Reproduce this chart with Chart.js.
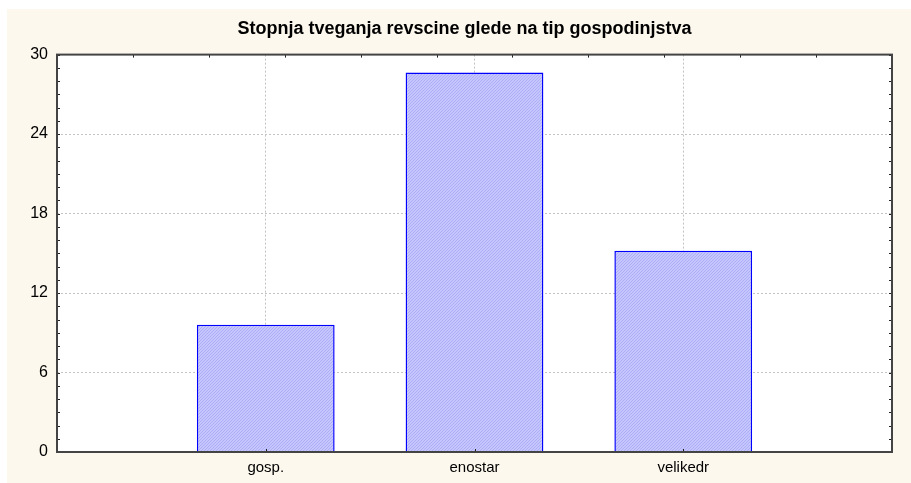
<!DOCTYPE html>
<html>
<head>
<meta charset="utf-8">
<script src="https://cdn.jsdelivr.net/npm/chart.js@4/dist/chart.umd.min.js"></script>
<style>
  html, body { margin: 0; padding: 0; background: #fff; }
  #wrap { position: absolute; left: 7px; top: 9px; width: 904px; height: 474px; background: #fdf8ed; }
</style>
</head>
<body>
<div id="wrap"><canvas id="chart"></canvas></div>
<script>
// podatki
const titleText = "Stopnja tveganja revscine glede na tip gospodinjstva";
const categories = ["", "gosp.", "enostar", "velikedr", ""];
const values = [null, 9.6, 28.65, 15.2, null];
const yTicks = [0, 6, 12, 18, 24, 30];

// srafura za stolpce
function hatch() {
  const c = document.createElement("canvas");
  c.width = 3; c.height = 3;
  const g = c.getContext("2d");
  g.fillStyle = "#c6c6ff";
  g.fillRect(0, 0, 3, 3);
  g.fillStyle = "#aeaef6";
  g.fillRect(2, 0, 1, 1);
  g.fillRect(1, 1, 1, 1);
  g.fillRect(0, 2, 1, 1);
  return g.createPattern(c, "repeat");
}

// belo ozadje grafa, naslov malo v desno
const plotBg = {
  id: "plotBg",
  afterLayout(chart) {
    if (chart.titleBlock) {
      chart.titleBlock.left += 15;
      chart.titleBlock.right += 15;
    }
  },
  beforeDraw(chart) {
    const { ctx, chartArea: a } = chart;
    ctx.save();
    ctx.fillStyle = "#fff";
    ctx.fillRect(a.left, a.top, a.right - a.left, a.bottom - a.top);
    ctx.restore();
  }
};

// okvir in notranje oznake
const frame = {
  id: "frame",
  afterDraw(chart) {
    const { ctx, chartArea: a, scales } = chart;
    ctx.save();
    ctx.strokeStyle = "#222";
    ctx.lineWidth = 1;
    ctx.beginPath();
    for (let v = 0; v <= 30; v++) {
      const y = Math.round(scales.y.getPixelForValue(v)) + 0.5;
      ctx.moveTo(a.left, y); ctx.lineTo(a.left + 3, y);
      ctx.moveTo(a.right, y); ctx.lineTo(a.right - 3, y);
    }
    for (let i = 1; i < 11; i++) {
      const x = Math.round(a.left + (a.right - a.left) * i / 11) + 0.5;
      ctx.moveTo(x, a.top); ctx.lineTo(x, a.top + 3);
    }
    for (let i = 1; i < categories.length - 1; i++) {
      const x = Math.round(scales.x.getPixelForValue(i)) + 0.5;
      ctx.moveTo(x, a.bottom); ctx.lineTo(x, a.bottom - 3);
    }
    ctx.stroke();
    ctx.strokeStyle = "#444";
    ctx.lineWidth = 2;
    ctx.strokeRect(a.left, a.top, a.right - a.left, a.bottom - a.top);
    ctx.restore();
  }
};

new Chart(document.getElementById("chart"), {
  type: "bar",
  data: {
    labels: categories,
    datasets: [{
      data: values,
      backgroundColor: hatch(),
      borderColor: "#0000ff",
      borderWidth: 1.5,
      barPercentage: 0.66,
      categoryPercentage: 1
    }]
  },
  options: {
    responsive: true,
    maintainAspectRatio: false,
    animation: false,
    layout: { padding: { left: 0, right: 19, top: 0, bottom: 0 } },
    plugins: {
      legend: { display: false },
      tooltip: { enabled: false },
      title: {
        display: true,
        text: titleText,
        color: "#000",
        font: { family: "Liberation Sans", size: 18, weight: "bold" },
        padding: { top: 9, bottom: 15 }
      }
    },
    scales: {
      x: {
        offset: false,
        grid: { color: "#c4c4c4", drawTicks: false, offset: false },
        border: { display: false, dash: [2, 2] },
        ticks: { color: "#000", padding: 7, font: { family: "Liberation Sans", size: 15 } },
        afterFit: s => { s.height = 31; }
      },
      y: {
        min: 0,
        max: 30,
        afterBuildTicks: s => { s.ticks = yTicks.map(v => ({ value: v })); },
        grid: { color: "#c4c4c4", drawTicks: false },
        border: { display: false, dash: [2, 2] },
        ticks: { color: "#000", padding: 9, font: { family: "Liberation Sans", size: 16 } },
        afterFit: s => { s.width = 50; }
      }
    }
  },
  plugins: [plotBg, frame]
});
</script>
</body>
</html>
